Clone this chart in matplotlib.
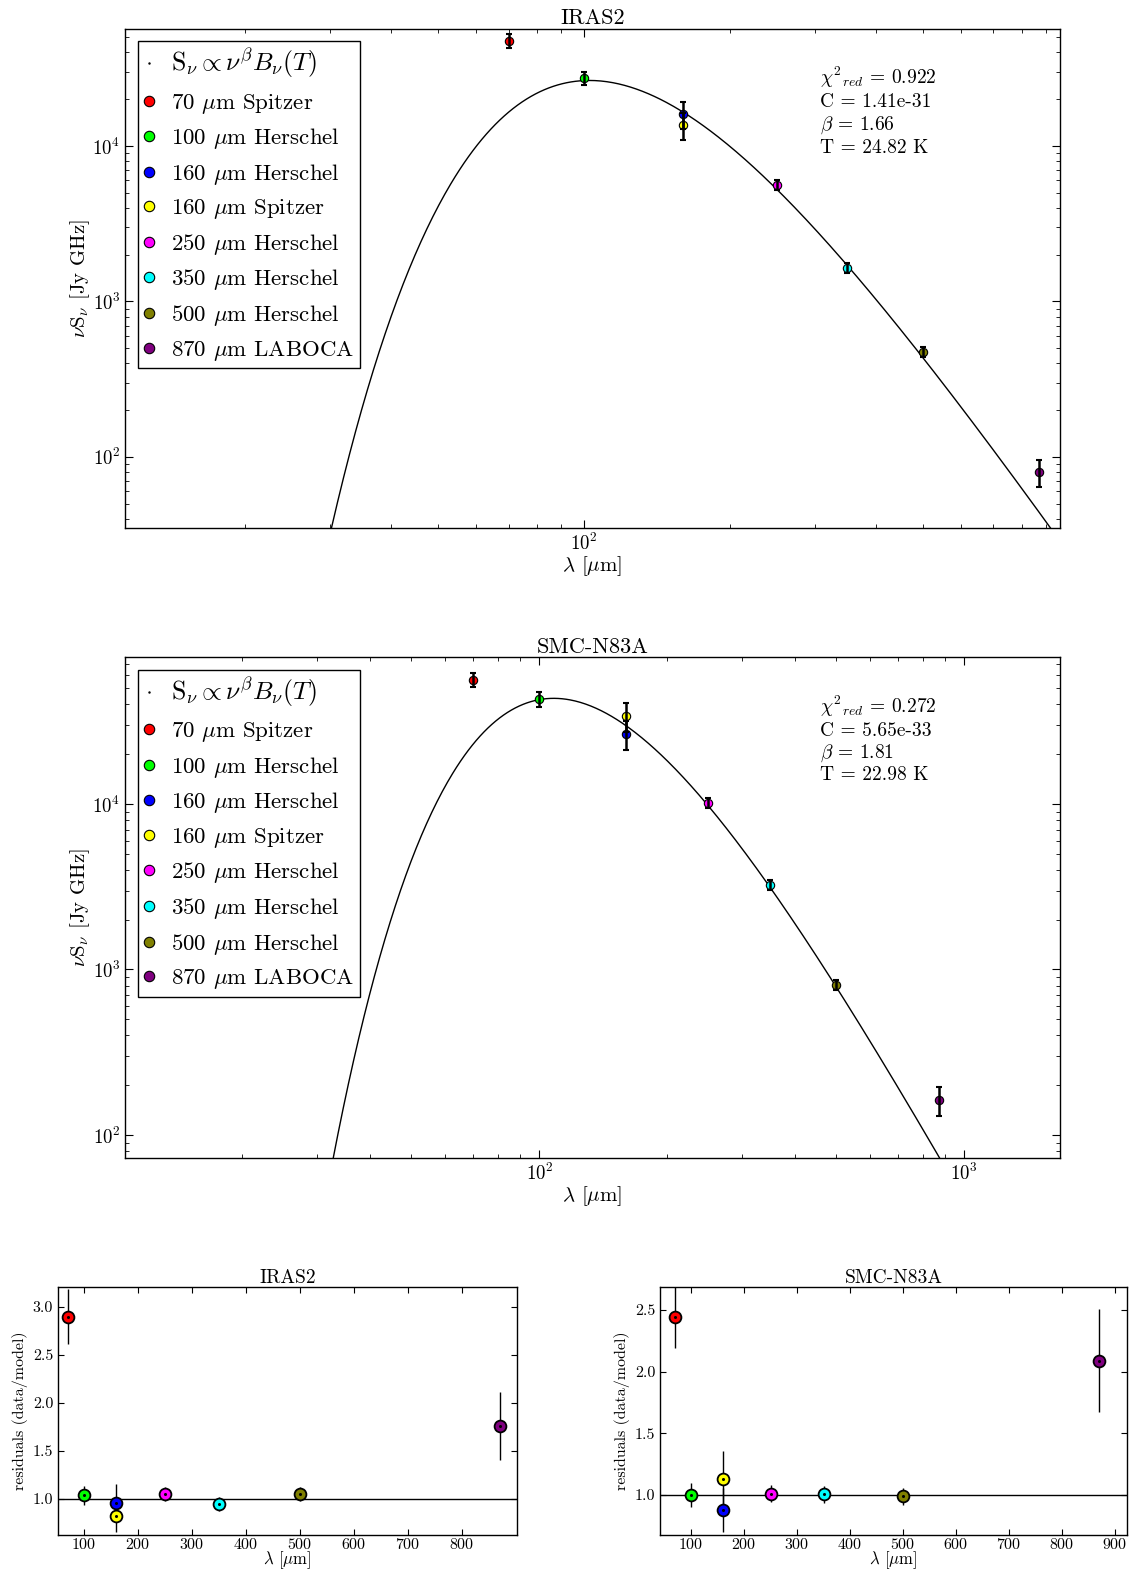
import numpy as np
import matplotlib
matplotlib.use("Agg")
import matplotlib.pyplot as plt
from matplotlib.lines import Line2D

plt.rcParams['font.family'] = ['cmr10', 'DejaVu Serif']
plt.rcParams['mathtext.fontset'] = 'cm'
plt.rcParams['axes.unicode_minus'] = False
plt.rcParams['axes.formatter.use_mathtext'] = True

# ---------------- data ----------------
wavelengths = [70, 100, 160, 160, 250, 350, 500, 870]
labels = [r"70 $\mu$m Spitzer", r"100 $\mu$m Herschel", r"160 $\mu$m Herschel",
          r"160 $\mu$m Spitzer", r"250 $\mu$m Herschel", r"350 $\mu$m Herschel",
          r"500 $\mu$m Herschel", r"870 $\mu$m LABOCA"]
colors = ['red', 'lime', 'blue', 'yellow', 'magenta', 'cyan', 'olive', 'purple']

# IRAS2  (nu S_nu, Jy GHz)
iras2_flux = [47600, 27200, 16000, 13600, 5610, 1640, 473, 80.1]
iras2_err = [4800, 2700, 3200, 2700, 390, 115, 33, 16]
iras2_resid = [2.90, 1.04, 0.96, 0.82, 1.05, 0.95, 1.05, 1.76]
iras2_resid_err = [0.29, 0.10, 0.20, 0.16, 0.07, 0.07, 0.07, 0.35]
iras2_fit = dict(chi2=0.922, C=1.41e-31, beta=1.66, T=24.82)

# SMC-N83A
smc_flux = [56300, 42900, 26500, 33900, 10100, 3240, 805, 163]
smc_err = [5600, 4300, 5300, 6800, 700, 230, 56, 33]
smc_resid = [2.44, 1.00, 0.88, 1.13, 1.01, 1.005, 0.99, 2.09]
smc_resid_err = [0.245, 0.10, 0.18, 0.23, 0.07, 0.07, 0.07, 0.42]
smc_fit = dict(chi2=0.272, C=5.65e-33, beta=1.81, T=22.98)
smc_beta_unrounded = 1.805

# ---------------- model ----------------
h = 6.62607015e-34
kB = 1.380649e-23
c = 2.99792458e8


def model_nuSnu(lam_um, C, beta, T):
    nu = c / (lam_um * 1e-6)
    B = 2 * h * nu**3 / c**2 / np.expm1(h * nu / (kB * T))
    return C * nu**beta * B * 1e26 * nu / 1e9


W, H = 1135, 1572
fig = plt.figure(figsize=(W / 100, H / 100), dpi=100)


def fax(l, t, r, b):
    return fig.add_axes([l / W, 1 - b / H, (r - l) / W, (b - t) / H])


def style_ax(ax, labelsize):
    ax.tick_params(which='both', direction='in', top=True, right=True,
                   labelsize=labelsize)
    ax.tick_params(which='major', length=6, width=0.8)
    ax.tick_params(which='minor', length=3, width=0.6)
    for s in ax.spines.values():
        s.set_linewidth(1.0)


def sed_panel(ax, title, flux, err, fit, beta_curve, xlim, ylim, text_y):
    lam = np.logspace(0.95, 3.4, 800)
    ax.plot(lam, model_nuSnu(lam, fit['C'], beta_curve, fit['T']), 'k-', lw=1.0, zorder=2)
    for i in range(len(wavelengths)):
        ax.plot(wavelengths[i], flux[i], 'o', color=colors[i], mec='k', mew=0.8,
                ms=6, zorder=3)
        ax.errorbar(wavelengths[i], flux[i], yerr=err[i], fmt='none', ecolor='k',
                    elinewidth=1.8, capsize=2.5, capthick=1.5, zorder=4)
    ax.set_xscale('log')
    ax.set_yscale('log')
    ax.set_xlim(*xlim)
    ax.set_ylim(*ylim)
    style_ax(ax, 13.5)
    ax.set_title(title, fontsize=16, pad=2)
    ax.set_xlabel(r"$\lambda$ [$\mu$m]", fontsize=15, labelpad=0)
    ax.set_ylabel(r"$\nu$S$_\nu$ [Jy GHz]", fontsize=15, labelpad=0.5)
    handles = [Line2D([], [], color='k', marker='.', ms=1.5, ls='None')]
    for i in range(len(wavelengths)):
        handles.append(Line2D([], [], color=colors[i], marker='o', mec='k', mew=0.8,
                              ms=7.5, ls='None'))
    leg = ax.legend(handles, [r"$\mathrm{S}_\nu \propto \nu^\beta B_\nu(T)$"] + labels,
                    loc='upper left', fontsize=16.5, handlelength=0.5,
                    handletextpad=0.7, borderpad=0.25, labelspacing=0.46,
                    borderaxespad=0.55, fancybox=False, framealpha=1,
                    edgecolor='k', numpoints=1)
    leg.get_texts()[0].set_fontsize(18.5)
    leg.get_frame().set_linewidth(1.0)
    lines = [r"${\chi^2}_{red}$ = %.3f" % fit['chi2'],
             "C = %.2e" % fit['C'],
             r"$\beta$ = %.2f" % fit['beta'],
             "T = %.2f K" % fit['T']]
    for j, s in enumerate(lines):
        ax.text((820 - 125) / 935, text_y[j], s, transform=ax.transAxes,
                fontsize=14, ha='left', va='center')


ax1 = fax(125, 28.5, 1060, 528)
sed_panel(ax1, "IRAS2", iras2_flux, iras2_err, iras2_fit, iras2_fit['beta'],
          (11.33, 960), (34.9, 56960),
          [(528 - 77) / 499.5, (528 - 102) / 499.5, (528 - 125) / 499.5, (528 - 148) / 499.5])

ax2 = fax(125, 657, 1060, 1158)
sed_panel(ax2, "SMC-N83A", smc_flux, smc_err, smc_fit, smc_beta_unrounded,
          (10.6, 1680), (72.6, 77270),
          [(1158 - 706) / 501, (1158 - 731) / 501, (1158 - 753) / 501, (1158 - 775) / 501])


def resid_panel(ax, title, resid, rerr, xlim, ylim, xticks, yticks):
    ax.axhline(1.0, color='k', lw=1.0, zorder=1)
    for i in range(len(wavelengths)):
        ax.errorbar(wavelengths[i], resid[i], yerr=rerr[i], fmt='none', ecolor='k',
                    elinewidth=1.0, capsize=0, zorder=2)
        ax.plot(wavelengths[i], resid[i], 'o', color=colors[i], mec='k', mew=1.3,
                ms=8.5, zorder=3)
        ax.plot(wavelengths[i], resid[i], 'o', color='k', ms=1.2, zorder=4)
    ax.set_xlim(*xlim)
    ax.set_ylim(*ylim)
    ax.set_xticks(xticks)
    ax.set_yticks(yticks)
    ax.set_yticklabels(["%.1f" % v for v in yticks])
    style_ax(ax, 11.5)
    ax.tick_params(which='major', length=4)
    ax.tick_params(axis='x', pad=1.5)
    ax.set_title(title, fontsize=14, pad=1)
    ax.set_xlabel(r"$\lambda$ [$\mu$m]", fontsize=12, labelpad=-2)
    ax.set_ylabel("residuals (data/model)", fontsize=11.5, labelpad=3)


ax3 = fax(58, 1287, 517, 1535)
resid_panel(ax3, "IRAS2", iras2_resid, iras2_resid_err, (52, 902), (0.625, 3.208),
            [100, 200, 300, 400, 500, 600, 700, 800], [1.0, 1.5, 2.0, 2.5, 3.0])

ax4 = fax(660, 1287, 1127, 1535)
resid_panel(ax4, "SMC-N83A", smc_resid, smc_resid_err, (41.5, 922.6), (0.676, 2.686),
            [100, 200, 300, 400, 500, 600, 700, 800, 900], [1.0, 1.5, 2.0, 2.5])

fig.savefig("out.png", dpi=100)
